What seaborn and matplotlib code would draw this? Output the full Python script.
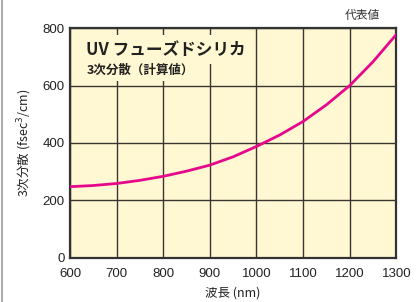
import matplotlib
matplotlib.use("Agg")
import matplotlib.pyplot as plt
import seaborn as sns
import pandas as pd
from matplotlib.lines import Line2D

# values
wavelength = [600, 650, 700, 750, 800, 850, 900, 950, 1000, 1050, 1100, 1150, 1200, 1250, 1300]
gdd3 = [248, 252, 259, 270, 284, 302, 323, 352, 388, 428, 475, 533, 600, 683, 778]
x_ticks = [600, 700, 800, 900, 1000, 1100, 1200, 1300]
y_ticks = [0, 200, 400, 600, 800]

df = pd.DataFrame({"wavelength": wavelength, "tod": gdd3})

sns.set_theme(style="white")
plt.rcParams["font.family"] = ["Liberation Sans", "Noto Sans CJK JP", "DejaVu Sans"]
jp = ["Noto Sans CJK JP", "DejaVu Sans"]

fig = plt.figure(figsize=(4.19, 3.02), dpi=100)
ax = fig.add_axes([0.167, 0.146, 0.779, 0.761])
ax.set_facecolor("#fff8d2")

ax.set_xlim(600, 1300)
ax.set_ylim(0, 800)
ax.set_xticks(x_ticks)
ax.set_yticks(y_ticks)
ax.grid(True, color="#3a3530", linewidth=1.0)
ax.set_axisbelow(True)

sns.lineplot(data=df, x="wavelength", y="tod", ax=ax, color="#e6088c", linewidth=2.0, zorder=3)

for s in ax.spines.values():
    s.set_color("#333333")
    s.set_linewidth(1.6)

ax.tick_params(axis="both", labelsize=9.5, colors="#222222", length=0)
ax.tick_params(axis="x", pad=7)
ax.tick_params(axis="y", pad=4)
ax.set_xlabel("波長 (nm)", family=jp, fontsize=9, color="#222222", labelpad=5)
ax.set_ylabel("3次分散 (fsec$^3$/cm)", family=jp, fontsize=9, color="#222222", labelpad=6)

ax.text(0.05, 0.905, "UV フューズドシリカ", transform=ax.transAxes, family=jp,
        fontsize=12, fontweight="bold", color="#222222", va="center", ha="left",
        bbox=dict(facecolor="#fff8d2", edgecolor="none", pad=4), zorder=2)
ax.text(0.052, 0.818, "3次分散（計算値）", transform=ax.transAxes, family=jp,
        fontsize=9, fontweight="bold", color="#222222", va="center", ha="left",
        bbox=dict(facecolor="#fff8d2", edgecolor="none", pad=3), zorder=2)

fig.text(0.866, 0.95, "代表値", family=jp, fontsize=8.5, color="#333333", ha="center", va="center")
fig.add_artist(Line2D([0.004, 0.004], [0, 1], color="#999999", linewidth=1.2))

fig.savefig("out.png", dpi=100)
